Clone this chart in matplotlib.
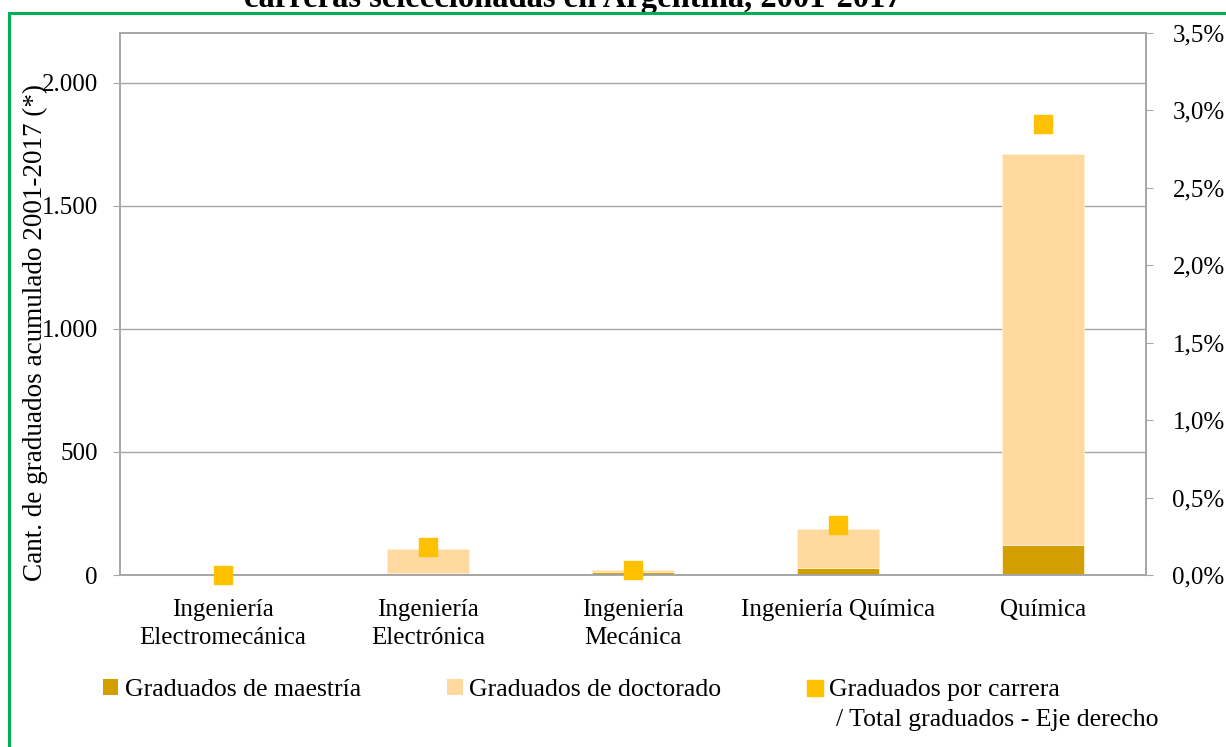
import matplotlib
matplotlib.use("Agg")
import matplotlib.pyplot as plt
from matplotlib.patches import Patch, Rectangle
from matplotlib.lines import Line2D
from matplotlib.ticker import FuncFormatter, FixedLocator

plt.rcParams['font.family'] = ['Liberation Serif', 'DejaVu Serif']

# valores
carreras = ['Ingeniería\nElectromecánica', 'Ingeniería\nElectrónica', 'Ingeniería\nMecánica',
            'Ingeniería Química', 'Química']
maestria = [0, 10, 12, 30, 122]
doctorado = [0, 95, 8, 158, 1590]
pct_total = [0.0, 0.18, 0.03, 0.32, 2.91]   # % eje derecho

c_maes = '#D29E00'
c_doct = '#FFD9A0'
c_pct = '#FFC000'
gris = '#A6A6A6'

fig = plt.figure(figsize=(12.26, 7.47), dpi=100)
ax = fig.add_axes([120/1226, 1 - 575/747, 1026/1226, 542/747])
x = range(len(carreras))

ax.bar(x, maestria, width=0.4, color=c_maes, edgecolor='#FFF0D0', linewidth=0.6, zorder=2)
ax.bar(x, doctorado, width=0.4, bottom=maestria, color=c_doct, edgecolor='#FFF0D0',
       linewidth=0.6, zorder=2)

ax.set_xlim(-0.5, len(carreras) - 0.5)
ax.set_ylim(0, 2203)
ax.yaxis.set_major_locator(FixedLocator([0, 500, 1000, 1500, 2000]))
ax.yaxis.set_major_formatter(FuncFormatter(lambda v, p: f'{int(v):,}'.replace(',', '.')))
ax.set_axisbelow(True)
ax.grid(axis='y', color=gris, linewidth=1)
ax.set_xticks(list(x))
ax.set_xticklabels(carreras, fontsize=18, linespacing=1.4)
ax.tick_params(axis='x', length=0, pad=17)
ax.tick_params(axis='y', labelsize=18, length=5, color=gris, pad=11)
for s in ax.spines.values():
    s.set_color(gris)
    s.set_linewidth(1.2)
ax.set_ylabel('Cant. de graduados acumulado 2001-2017 (*)', fontsize=19.5, va='center')
ax.yaxis.set_label_coords(-0.082, 0.448)

ax2 = ax.twinx()
ax2.plot(list(x), pct_total, linestyle='none', marker='s', markersize=12.5,
         color=c_pct, zorder=5, clip_on=False)
ax2.set_ylim(0, 3.5)
ax2.yaxis.set_major_locator(FixedLocator([0, 0.5, 1, 1.5, 2, 2.5, 3, 3.5]))
ax2.yaxis.set_major_formatter(FuncFormatter(lambda v, p: f'{v:.1f}%'.replace('.', ',')))
ax2.tick_params(axis='y', labelsize=18, length=5, color=gris, pad=14)
for s in ax2.spines.values():
    s.set_color(gris)
    s.set_linewidth(1.2)

# titulo (cortado arriba, como en el original)
fig.text(0.467, 1 - 7/747, 'carreras seleccionadas en Argentina, 2001-2017',
         ha='center', va='baseline', fontsize=23.5, fontweight='bold')

handles = [Patch(facecolor=c_maes), Patch(facecolor=c_doct),
           Line2D([], [], linestyle='none', marker='s', markersize=11, color=c_pct)]
labels = ['Graduados de maestría', 'Graduados de doctorado', 'Graduados por carrera']
leg = fig.legend(handles, labels, ncol=3, loc='center left',
                 bbox_to_anchor=(103/1226, 1 - 690/747), frameon=False, fontsize=18.5,
                 handlelength=0.6, handleheight=0.6, handletextpad=0.25,
                 columnspacing=3.35, borderpad=0, borderaxespad=0)
fig.canvas.draw()
bb = leg.get_texts()[2].get_window_extent()
fig.text((bb.x0 + 7) / 1226, (bb.y0 - 30) / 747, '/ Total graduados - Eje derecho',
         ha='left', va='bottom', fontsize=18.5)

# marco verde
fig.patches.append(Rectangle((9/1226, -0.05), 1.2, 1 - 13/747 + 0.05, transform=fig.transFigure,
                             fill=False, edgecolor='#00B050', linewidth=2.2, zorder=10))

fig.savefig('out.png', dpi=100)
